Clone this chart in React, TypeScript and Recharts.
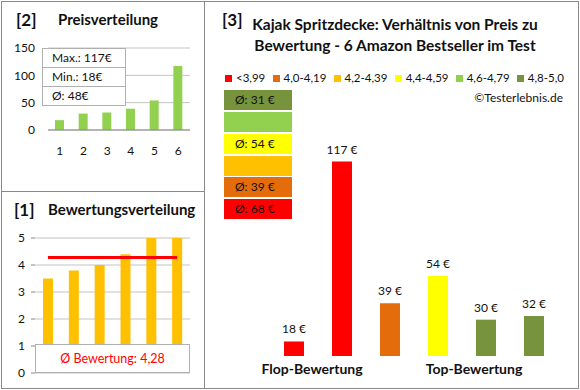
import React from 'react';
import {
  BarChart,
  ComposedChart,
  Bar,
  Line,
  Cell,
  XAxis,
  YAxis,
  CartesianGrid,
  LabelList
} from 'recharts';

// Panel [2] - price distribution
const priceCategories = ['1', '2', '3', '4', '5', '6'];
const priceValues = [18, 30, 32, 39, 54, 117];
const priceTicks = [0, 50, 100, 150];
const priceGridLines = [0, 10, 20, 30, 40, 50, 60, 70, 80, 90, 100, 110, 120, 130, 140, 150];
const priceStats = ['Max.: 117€', 'Min.: 18€', 'Ø: 48€'];

// Panel [1] - rating distribution
const ratingValues = [3.5, 3.8, 4.0, 4.4, 5.0, 5.0];
const ratingAverage = [4.28, 4.28, 4.28, 4.28, 4.28, 4.28];
const ratingTicks = [0, 1, 2, 3, 4, 5];
const ratingGridLines = [
  0, 0.25, 0.5, 0.75, 1, 1.25, 1.5, 1.75, 2, 2.25, 2.5, 2.75,
  3, 3.25, 3.5, 3.75, 4, 4.25, 4.5, 4.75, 5
];
const ratingAverageLabel = 'Ø Bewertung: 4,28';

// Panel [3] - price vs rating
const mainProducts = ['P1', 'P2', 'P3', 'P4', 'P5', 'P6'];
const mainPrices = [18, 117, 39, 54, 30, 32];
const mainColors = ['#FF0000', '#FF0000', '#E46C0A', '#FFFF00', '#77933C', '#77933C'];
const groupLabels = ['Flop-Bewertung', 'Top-Bewertung'];

const legendLabels = ['<3,99', '4,0-4,19', '4,2-4,39', '4,4-4,59', '4,6-4,79', '4,8-5,0'];
const legendColors = ['#FF0000', '#E46C0A', '#FFC000', '#FFFF00', '#92D050', '#77933C'];

// average price per rating class, top to bottom
const classColors = ['#77933C', '#92D050', '#FFFF00', '#FFC000', '#E46C0A', '#FF0000'];
const classAverages = ['Ø: 31 €', '', 'Ø: 54 €', '', 'Ø: 39 €', 'Ø: 68 €'];

const font = 'Lato, "Open Sans", sans-serif';
const borderGray = '#8a8a8a';

const abs = (left: number, top: number, extra: React.CSSProperties = {}): React.CSSProperties => ({
  position: 'absolute',
  left,
  top,
  ...extra
});

const priceData = priceCategories.map((name, i) => ({ name, price: priceValues[i] }));
const ratingData = priceCategories.map((name, i) => ({
  name,
  rating: ratingValues[i],
  avg: ratingAverage[i]
}));
const mainData = mainProducts.map((name, i) => ({ name, price: mainPrices[i] }));

const classTops = [90, 112, 134, 156, 177, 199];

// price label above each bar, kept on one line
// eslint-disable-next-line @typescript-eslint/no-explicit-any
const PriceLabel = (props: any) => {
  const { x, y, width, value } = props;
  return (
    <text x={x + width / 2} y={y - 8} textAnchor="middle" fill="#111" fontSize={12} fontFamily={font}>
      {`${value} €`}
    </text>
  );
};

const App: React.FC = () => {
  return (
    <div style={abs(0, 0, { width: 580, height: 390, background: '#fff', fontFamily: font, color: '#111' })}>
      {/* frames */}
      <div style={abs(1, 1, { width: 578, height: 388, border: `1px solid ${borderGray}`, boxSizing: 'border-box' })} />
      <div style={abs(204, 1, { width: 1, height: 388, background: borderGray })} />
      <div style={abs(1, 191, { width: 204, height: 1, background: borderGray })} />

      {/* ---------- [2] Preisverteilung ---------- */}
      <div style={abs(16, 9, { fontSize: 17, fontWeight: 700 })}>[2]</div>
      <div style={abs(58, 10, { fontSize: 15, fontWeight: 700 })}>Preisverteilung</div>
      <div style={abs(0, 0)}>
        <BarChart width={200} height={195} data={priceData} margin={{ top: 48, right: 10, bottom: 35, left: 18 }}>
          <CartesianGrid vertical={false} horizontalValues={priceGridLines} stroke="#c3c3c3" />
          <XAxis
            dataKey="name"
            axisLine={{ stroke: '#868686' }}
            tickLine={false}
            tickMargin={10}
            tick={{ fill: '#111', fontSize: 12, fontFamily: font }}
          />
          <YAxis
            width={30}
            domain={[0, 150]}
            ticks={priceTicks}
            axisLine={false}
            tickLine={false}
            tickMargin={7}
            tick={{ fill: '#111', fontSize: 12, fontFamily: font }}
          />
          <Bar dataKey="price" fill="#92D050" barSize={9} isAnimationActive={false} />
        </BarChart>
      </div>
      <div style={abs(42, 48, { width: 84, background: '#fff', border: '1px solid #b0b0b0', boxSizing: 'border-box' })}>
        {priceStats.map((s, i) => (
          <div
            key={s}
            style={{
              height: 18,
              lineHeight: '18px',
              paddingLeft: 9,
              fontSize: 12,
              borderTop: i ? '1px solid #b0b0b0' : 'none'
            }}
          >
            {s}
          </div>
        ))}
      </div>

      {/* ---------- [1] Bewertungsverteilung ---------- */}
      <div style={abs(14, 199, { fontSize: 17, fontWeight: 700 })}>[1]</div>
      <div style={abs(48, 200, { fontSize: 15, fontWeight: 700 })}>Bewertungsverteilung</div>
      <div style={abs(0, 190)}>
        <ComposedChart width={200} height={195} data={ratingData} margin={{ top: 48, right: 10, bottom: 12, left: 15 }}>
          <CartesianGrid vertical={false} horizontalValues={ratingGridLines} stroke="#c3c3c3" />
          <XAxis dataKey="name" hide />
          <YAxis
            width={20}
            domain={[0, 5]}
            ticks={ratingTicks}
            axisLine={false}
            tickLine={{ stroke: '#868686' }}
            tickSize={4}
            tickMargin={6}
            tick={{ fill: '#111', fontSize: 12, fontFamily: font }}
          />
          <Bar dataKey="rating" fill="#FFC000" barSize={10} isAnimationActive={false} />
          <Line dataKey="avg" stroke="#FF0000" strokeWidth={3} dot={false} isAnimationActive={false} />
        </ComposedChart>
      </div>
      <div
        style={abs(35, 344, {
          width: 155,
          height: 29,
          background: '#fff',
          border: '1px solid #b0b0b0',
          boxSizing: 'border-box',
          color: '#FF0000',
          fontSize: 12.5,
          textAlign: 'center',
          lineHeight: '27px'
        })}
      >
        {ratingAverageLabel}
      </div>

      {/* ---------- [3] Preis zu Bewertung ---------- */}
      <div style={abs(222, 9, { fontSize: 17, fontWeight: 700 })}>[3]</div>
      <div style={abs(195, 14, { width: 400, textAlign: 'center', fontSize: 15.5, fontWeight: 700, lineHeight: '21px' })}>
        Kajak Spritzdecke: Verhältnis von Preis zu
        <br />
        Bewertung - 6 Amazon Bestseller im Test
      </div>

      <div
        style={abs(225, 70, {
          width: 339,
          display: 'flex',
          justifyContent: 'space-between',
          fontSize: 11.5,
          lineHeight: '16px'
        })}
      >
        {legendLabels.map((label, i) => (
          <div key={label} style={{ display: 'flex', alignItems: 'center', whiteSpace: 'nowrap' }}>
            <span style={{ width: 7, height: 7, background: legendColors[i], marginRight: 4 }} />
            {label}
          </div>
        ))}
      </div>
      <div style={abs(443, 90, { width: 120, textAlign: 'right', fontSize: 12 })}>©Testerlebnis.de</div>

      {classColors.map((c, i) => (
        <div
          key={c}
          style={abs(224, classTops[i], {
            width: 68,
            height: 20,
            background: c,
            fontSize: 12,
            lineHeight: '20px',
            paddingLeft: 11,
            boxSizing: 'border-box'
          })}
        >
          {classAverages[i]}
        </div>
      ))}

      <div style={abs(270, 138)}>
        <BarChart
          width={288}
          height={218}
          data={mainData}
          margin={{ top: 0, right: 0, bottom: 0, left: 0 }}
          style={{ overflow: 'visible' }}
        >
          <XAxis dataKey="name" hide />
          <YAxis hide domain={[10, 130]} />
          <Bar dataKey="price" barSize={20} isAnimationActive={false}>
            {mainData.map((d, i) => (
              <Cell key={d.name} fill={mainColors[i]} />
            ))}
            <LabelList dataKey="price" content={PriceLabel} />
          </Bar>
        </BarChart>
      </div>
      <div style={abs(252, 360, { width: 120, textAlign: 'center', fontSize: 14, fontWeight: 700 })}>{groupLabels[0]}</div>
      <div style={abs(414, 360, { width: 120, textAlign: 'center', fontSize: 14, fontWeight: 700 })}>{groupLabels[1]}</div>
    </div>
  );
};

export default App;
